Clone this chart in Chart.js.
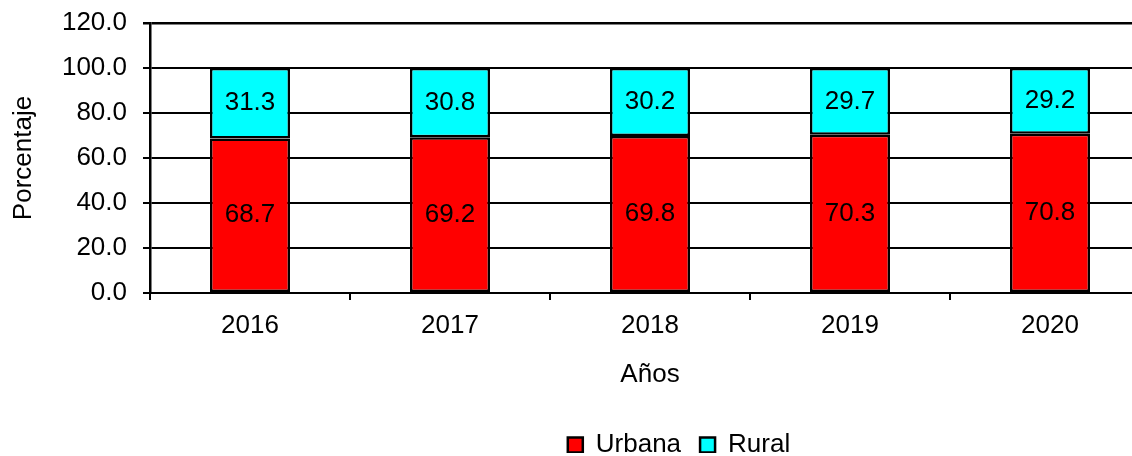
<!DOCTYPE html>
<html>
<head>
<meta charset="utf-8">
<script src="https://cdn.jsdelivr.net/npm/chart.js@4.4.1/dist/chart.umd.min.js"></script>
<style>
html, body { margin: 0; padding: 0; overflow: hidden; background: #fff; }
canvas { display: block; }
</style>
</head>
<body>
<canvas id="c" width="1150" height="456"></canvas>
<script>
const categories = ['2016', '2017', '2018', '2019', '2020'];
const urbana = [68.7, 69.2, 69.8, 70.3, 70.8];
const rural = [31.3, 30.8, 30.2, 29.7, 29.2];
const yTicks = [0, 20, 40, 60, 80, 100, 120];

const FONT = "'Liberation Sans', Arial, sans-serif";
const LEGEND_PAD = 19;

const dataLabels = {
  id: 'dataLabels',
  afterDatasetsDraw(chart) {
    const ctx = chart.ctx;
    ctx.save();
    ctx.font = '26px ' + FONT;
    ctx.fillStyle = '#000';
    ctx.textAlign = 'center';
    ctx.textBaseline = 'middle';
    chart.data.datasets.forEach((ds, i) => {
      const meta = chart.getDatasetMeta(i);
      meta.data.forEach((el, j) => {
        const y = (el.y + el.base) / 2;
        ctx.fillText(ds.data[j].toFixed(1), el.x, y);
      });
    });
    ctx.restore();
  }
};

const legendPlace = {
  id: 'legendPlace',
  beforeLayout(chart) {
    const lg = chart.legend;
    if (lg && !lg._fixedFit) {
      const f = lg.fit;
      lg.fit = function () { f.call(this); this.height = 40; };
      lg._fixedFit = true;
    }
  },
  afterLayout(chart) {
    const lg = chart.legend;
    if (!lg) return;
    const dx = 679 - (lg.left + lg.right) / 2;
    const dy = 445 - (lg.top + LEGEND_PAD + 13);
    lg.left += dx; lg.right += dx;
    lg.top += dy; lg.bottom += dy;
  }
};

new Chart(document.getElementById('c'), {
  type: 'bar',
  data: {
    labels: categories,
    datasets: [
      { label: 'Urbana', data: urbana, backgroundColor: '#FF0000', borderColor: '#000', borderWidth: 2.5, borderSkipped: false },
      { label: 'Rural', data: rural, backgroundColor: '#00FFFF', borderColor: '#000', borderWidth: 2.5, borderSkipped: false }
    ]
  },
  options: {
    responsive: false,
    animation: false,
    devicePixelRatio: 1,
    layout: { padding: { top: 23, left: 0, right: 0, bottom: 0 } },
    datasets: { bar: { categoryPercentage: 1, barPercentage: 0.4 } },
    plugins: {
      legend: {
        position: 'bottom',
        labels: { font: { size: 26, family: FONT }, color: '#000', boxWidth: 15, boxHeight: 15, padding: LEGEND_PAD }
      },
      tooltip: { enabled: false }
    },
    scales: {
      x: {
        stacked: true,
        afterFit(s) { s.height = 123; s.paddingLeft = 0; s.paddingRight = 0; },
        grid: { display: true, drawOnChartArea: false, drawTicks: true, tickLength: 7, color: '#000', lineWidth: 2, offset: true },
        border: { display: true, color: '#000', width: 2 },
        ticks: { font: { size: 26, family: FONT }, color: '#000', padding: 10, maxRotation: 0 },
        title: { display: true, text: 'Años', font: { size: 26, family: FONT }, color: '#000', padding: { top: 0, bottom: 26 } }
      },
      y: {
        stacked: true,
        min: 0, max: 120,
        afterFit(s) { s.width = 150; s.paddingTop = 0; s.paddingBottom = 0; },
        afterBuildTicks(s) { s.ticks = yTicks.map(v => ({ value: v })); },
        grid: {
          color: '#000',
          lineWidth: (c) => (c.tick && c.tick.value === 120 ? 2.5 : 2),
          tickLength: 7,
          drawTicks: true
        },
        border: { display: true, color: '#000', width: 2.5 },
        ticks: { font: { size: 26, family: FONT }, color: '#000', padding: 16, callback: (v) => Number(v).toFixed(1) },
        title: { display: true, text: 'Porcentaje', font: { size: 26, family: FONT }, color: '#000', padding: { top: 8, bottom: 0 } }
      }
    }
  },
  plugins: [dataLabels, legendPlace]
});
</script>
</body>
</html>
